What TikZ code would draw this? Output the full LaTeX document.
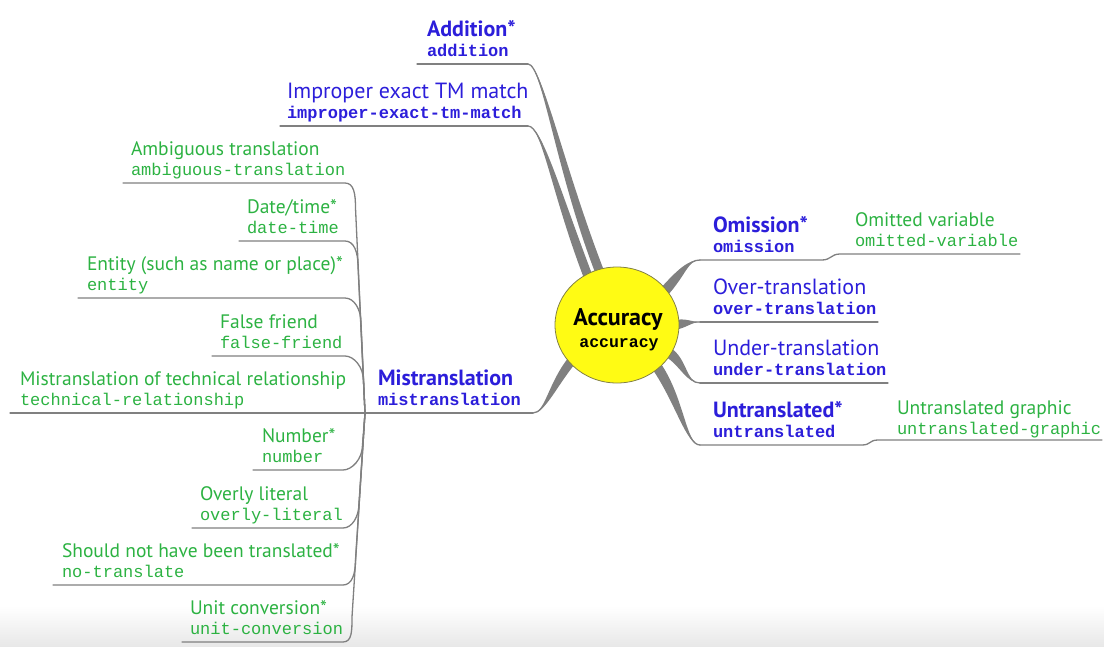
\documentclass[tikz,border=0pt]{standalone}
\usepackage{fontspec}
\setmainfont{PT Sans}
\setmonofont{Liberation Mono}
\usetikzlibrary{shapes.geometric,calc,backgrounds}

\definecolor{catblue}{RGB}{44,30,218}
\definecolor{catgreen}{RGB}{44,178,66}
\definecolor{twiggray}{RGB}{128,128,128}
\definecolor{hubyellow}{RGB}{255,251,20}
\definecolor{hubrim}{RGB}{130,128,70}

\tikzset{
  lbl/.style={inner sep=0pt, outer sep=0pt, anchor=base west},
  bluetitle/.style={lbl, text=catblue, font=\fontsize{22}{24}\selectfont},
  bluebold/.style={lbl, text=catblue, font=\fontsize{22}{24}\selectfont\bfseries},
  blueid/.style={lbl, text=catblue, font=\fontsize{17}{19}\selectfont\ttfamily\bfseries},
  greentitle/.style={lbl, text=catgreen, font=\fontsize{19.5}{22}\selectfont},
  greenid/.style={lbl, text=catgreen, font=\fontsize{17}{19}\selectfont\ttfamily},
  twig/.style={draw=twiggray, line width=1.3pt, line cap=round, line join=round},
  limb/.style={fill=twiggray},
  hub/.style={ellipse, minimum width=124pt, minimum height=116pt, inner sep=0pt,
    fill=hubyellow, draw=hubrim, line width=0.8pt},
}

% title + identifier pair, placed from the underline height #3
\newcommand\mmpair[7]{%
  \node[#4] (#1) at (#2,#3-28) {#6};
  \node[#5] (#1-id) at (#2,#3-8) {#7};}

% tapered branch: thin at #1, widening to the half-width vector #5 at #4
\newcommand\mmlimb[5]{%
  \fill[limb] (#1) .. controls (#2) and ($(#3)+(#5)$) .. ($(#4)+(#5)$)
    -- ($(#4)-(#5)$) .. controls ($(#3)-(#5)$) and (#2) .. (#1) -- cycle;
  \draw[twig] (#1) .. controls (#2) and (#3) .. (#4);}

\begin{document}
\begin{tikzpicture}[x=1pt,y=-1pt]
\useasboundingbox (0,0) rectangle (1104,646);

% central topic
\node[hub] (acc) at (617,325) {};
\node[lbl, anchor=base, font=\fontsize{24}{26}\selectfont\bfseries] (acc-t) at (618,325) {Accuracy};
\node[lbl, anchor=base, font=\fontsize{16.5}{18}\selectfont\ttfamily\bfseries] (acc-id) at (619,347) {accuracy};

% first-level categories
\mmpair{add}{427}{64}{bluebold}{blueid}{Addition*}{addition}
\mmpair{imp}{287}{126}{bluetitle}{blueid}{Improper exact TM match}{improper-exact-tm-match}
\mmpair{omi}{713}{260}{bluebold}{blueid}{Omission*}{omission}
\mmpair{ovr}{713}{322}{bluetitle}{blueid}{Over-translation}{over-translation}
\mmpair{und}{713}{383}{bluetitle}{blueid}{Under-translation}{under-translation}
\mmpair{unt}{713}{445}{bluebold}{blueid}{Untranslated*}{untranslated}
\mmpair{mis}{378}{413}{bluebold}{blueid}{Mistranslation}{mistranslation}

% second-level categories
\mmpair{omv}{855}{254}{greentitle}{greenid}{Omitted variable}{omitted-variable}
\mmpair{ung}{897}{442}{greentitle}{greenid}{Untranslated graphic}{untranslated-graphic}
\mmpair{amb}{131}{183}{greentitle}{greenid}{Ambiguous translation}{ambiguous-translation}
\mmpair{dat}{247}{241}{greentitle}{greenid}{Date/time*}{date-time}
\mmpair{ent}{87}{298}{greentitle}{greenid}{Entity (such as name or place)*}{entity}
\mmpair{ff}{220}{356}{greentitle}{greenid}{False friend}{false-friend}
\mmpair{tec}{20}{413}{greentitle}{greenid}{Mistranslation of technical relationship}{technical-relationship}
\mmpair{num}{262}{470}{greentitle}{greenid}{Number*}{number}
\mmpair{lit}{200}{528}{greentitle}{greenid}{Overly literal}{overly-literal}
\mmpair{nt}{62}{585}{greentitle}{greenid}{Should not have been translated*}{no-translate}
\mmpair{uc}{190}{642}{greentitle}{greenid}{Unit conversion*}{unit-conversion}

% underline end points
\coordinate (add-l) at (417,64);  \coordinate (add-r) at (528,64);
\coordinate (imp-l) at (280,126); \coordinate (imp-r) at (528,126);
\coordinate (omi-l) at (700,260); \coordinate (omi-k) at (822,260);
\coordinate (omv-l) at (840,254); \coordinate (omv-r) at (1020,254);
\coordinate (ovr-l) at (700,322); \coordinate (ovr-r) at (878,322);
\coordinate (und-l) at (700,383); \coordinate (und-r) at (888,383);
\coordinate (unt-l) at (700,445); \coordinate (unt-k) at (862,445);
\coordinate (ung-l) at (878,440); \coordinate (ung-r) at (1102,440);
\coordinate (mj)    at (365,413); \coordinate (mis-r) at (533,413);

% branch roots inside the hub
\coordinate (add-e) at ($(acc.center)!0.93!(acc.108)$);
\coordinate (imp-e) at ($(acc.center)!0.93!(acc.121)$);
\coordinate (omi-e) at ($(acc.center)!0.93!(acc.35)$);
\coordinate (ovr-e) at ($(acc.center)!0.93!(acc.0)$);
\coordinate (und-e) at ($(acc.center)!0.93!(acc.-28)$);
\coordinate (unt-e) at ($(acc.center)!0.93!(acc.-46)$);
\coordinate (mis-e) at ($(acc.center)!0.93!(acc.218)$);

\begin{pgfonlayer}{background}
  % soft floor shade
  \shade[top color=white, bottom color=black!9] (0,606) rectangle (1104,646);

  % tapered branches from the hub
  \mmlimb{add-r}{542,64}{560,170}{add-e}{4.2,-1.6}
  \mmlimb{imp-r}{542,126}{555,190}{imp-e}{4.3,-1.4}
  \mmlimb{omi-l}{688,260}{682,272}{omi-e}{4.1,2.9}
  \mmlimb{ovr-l}{692,322}{686,323}{ovr-e}{0,5}
  \mmlimb{und-l}{686,383}{684,362}{und-e}{3.2,-3.8}
  \mmlimb{unt-l}{686,445}{680,400}{unt-e}{4.4,-2.5}
  \mmlimb{mis-r}{545,413}{552,385}{mis-e}{3.7,2.5}
\end{pgfonlayer}

% underlines of the first level
\draw[twig] (add-l) -- (add-r);
\draw[twig] (imp-l) -- (imp-r);
\draw[twig] (omi-l) -- (omi-k) .. controls +(9,0) and +(-9,0) .. (omv-l) -- (omv-r);
\draw[twig] (ovr-l) -- (ovr-r);
\draw[twig] (und-l) -- (und-r);
\draw[twig] (unt-l) -- (unt-k) .. controls +(9,0) and +(-9,0) .. (ung-l) -- (ung-r);
\draw[twig] (mj) -- (mis-r);

% mistranslation subtree: upper twigs
\draw[twig] (123,183) -- (345,183) .. controls +(9,0) and +(0,-14) .. (355.5,208) -- (mj);
\draw[twig] (239,241) -- (345,241) .. controls +(9,0) and +(0,-14) .. (358,266) -- (mj);
\draw[twig] (78,298)  -- (345,298) .. controls +(9,0) and +(0,-14) .. (361,323) -- (mj);
\draw[twig] (212,356) -- (345,356) .. controls +(9,0) and +(0,-14) .. (363.5,381) -- (mj);
\draw[twig] (10,413) -- (mj);

% mistranslation subtree: lower twigs
\draw[twig] (253,470) -- (343,470) .. controls +(9,0) and +(0,14) .. (362.5,445) -- (mj);
\draw[twig] (192,528) -- (343,528) .. controls +(9,0) and +(0,14) .. (359,503) -- (mj);
\draw[twig] (53,585)  -- (343,585) .. controls +(9,0) and +(0,14) .. (355.5,560) -- (mj);
\draw[twig] (182,642) -- (343,642) .. controls +(9,0) and +(0,14) .. (352,617) -- (mj);
\end{tikzpicture}
\end{document}
